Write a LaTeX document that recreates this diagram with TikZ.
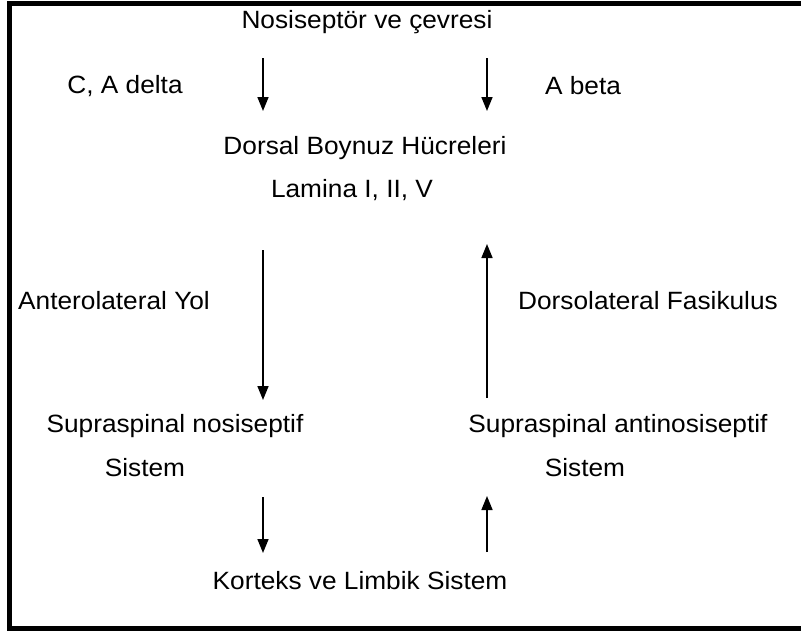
\documentclass[tikz,border=0pt]{standalone}
\usepackage{fontspec}
\setmainfont{Liberation Sans}
\usetikzlibrary{arrows.meta}

\begin{document}
\begin{tikzpicture}[x=1pt, y=-1pt,
  every node/.style={font=\fontsize{25}{29}\selectfont, inner sep=0pt, xscale=1.05},
  every edge/.style={draw=black, line width=1.6pt, -{Triangle[width=11pt, length=14pt]}}]
			\useasboundingbox (0,0) rectangle (801,632);
			\clip (0,0) rectangle (801,632);
			\draw[line width=4.5pt] (9.5,3.3) rectangle (830,628.5);
			
			\node (top) at (367,22){Nosiseptör ve çevresi};
			\node (cad) at (125,86){C, A delta};
			\node (abeta) at (583,86){A beta};
			\node (dorsal) at (365,148){Dorsal Boynuz Hücreleri};
			\node (lamina) at (352,190){Lamina I, II, V};
			\node (antero) at (114,301){Anterolateral Yol};
			\node (dorsolat) at (648,301){Dorsolateral Fasikulus};
			\node (supnos) at (175,426){Supraspinal nosiseptif};
			\node (sisnos) at (145,468){Sistem};
			\node (supanti) at (618,426){Supraspinal antinosiseptif};
			\node (sisanti) at (585,468){Sistem};
			\node (korteks) at (360,581){Korteks ve Limbik Sistem};
			
			\coordinate (l1) at (263,58);
			\coordinate (l2) at (263,111);
			\coordinate (r1) at (487,58);
			\coordinate (r2) at (487,111);
			\coordinate (l3) at (263,250);
			\coordinate (l4) at (263,400);
			\coordinate (r3) at (487,398);
			\coordinate (r4) at (487,244);
			\coordinate (l5) at (263,497);
			\coordinate (l6) at (263,553);
			\coordinate (r5) at (487,552);
			\coordinate (r6) at (487,496);
			
			\path (l1) edge (l2);
			\path (r1) edge (r2);
			\path (l3) edge (l4);
			\path (r3) edge (r4);
			\path (l5) edge (l6);
			\path (r5) edge (r6);
			\end{tikzpicture}
\end{document}
